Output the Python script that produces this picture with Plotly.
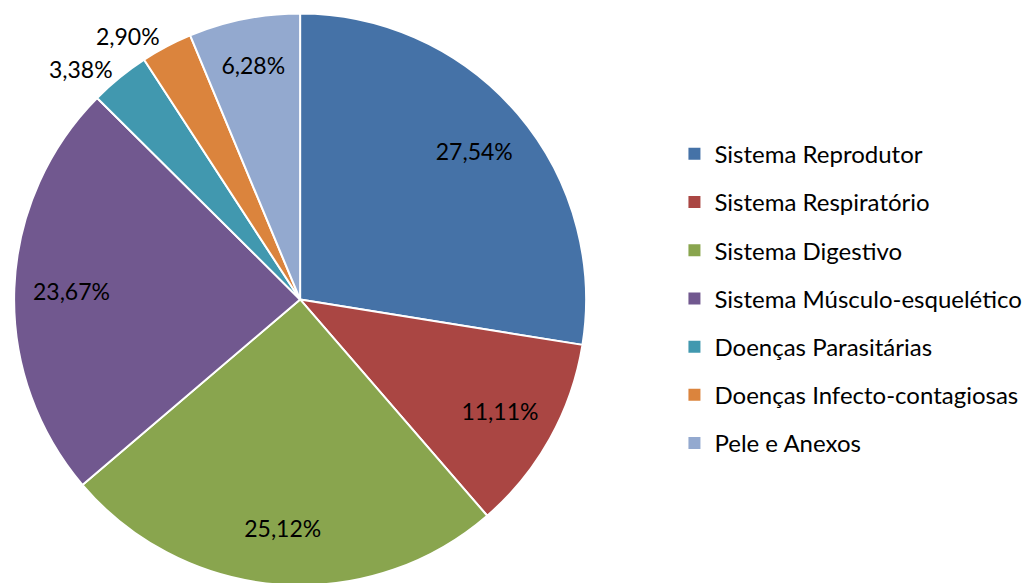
import plotly.graph_objects as go

categories = ["Sistema Reprodutor", "Sistema Respiratório", "Sistema Digestivo",
              "Sistema Músculo-esquelético", "Doenças Parasitárias",
              "Doenças Infecto-contagiosas", "Pele e Anexos"]
values = [27.54, 11.11, 25.12, 23.67, 3.38, 2.90, 6.28]
colors = ["#4572A7", "#AA4643", "#89A54E", "#71588F", "#4198AF", "#DB843D", "#93A9CF"]
label_pos = ["inside", "inside", "inside", "inside", "outside", "outside", "inside"]

texts = [f"{v:.2f}".replace(".", ",") + "%" for v in values]
FONT = "Lato"
DOMAIN = dict(x=[0.002, 0.561], y=[0.001, 0.9906])

fig = go.Figure()
# filled pie
fig.add_trace(go.Pie(
    labels=categories, values=values, sort=False, direction="clockwise", rotation=0,
    textinfo="none",
    marker=dict(colors=colors, line=dict(color="white", width=2)),
    showlegend=False, domain=DOMAIN, hoverinfo="label+percent",
))
# transparent ring carrying the data labels near the outer edge
fig.add_trace(go.Pie(
    labels=categories, values=values, sort=False, direction="clockwise", rotation=0,
    hole=0.6, text=texts, texttemplate="%{text}", textposition=label_pos,
    insidetextorientation="horizontal",
    marker=dict(colors=["rgba(0,0,0,0)"] * len(values), line=dict(width=0)),
    textfont=dict(family=FONT, size=23, color="black"),
    showlegend=False, domain=DOMAIN, hoverinfo="skip",
))
for c, col in zip(categories, colors):
    fig.add_trace(go.Scatter(x=[None], y=[None], mode="markers", name=c, legendgroup=c,
                             marker=dict(symbol="square", size=12, color=col)))

fig.update_layout(
    width=1030, height=583, margin=dict(l=0, r=0, t=0, b=0),
    paper_bgcolor="white", plot_bgcolor="white",
    xaxis=dict(visible=False), yaxis=dict(visible=False),
    legend=dict(x=0.646, xanchor="left", y=0.497, yanchor="middle",
                font=dict(family=FONT, size=24, color="black"),
                tracegroupgap=14, itemwidth=30, bgcolor="rgba(0,0,0,0)"),
)
fig.write_html("out.html")
